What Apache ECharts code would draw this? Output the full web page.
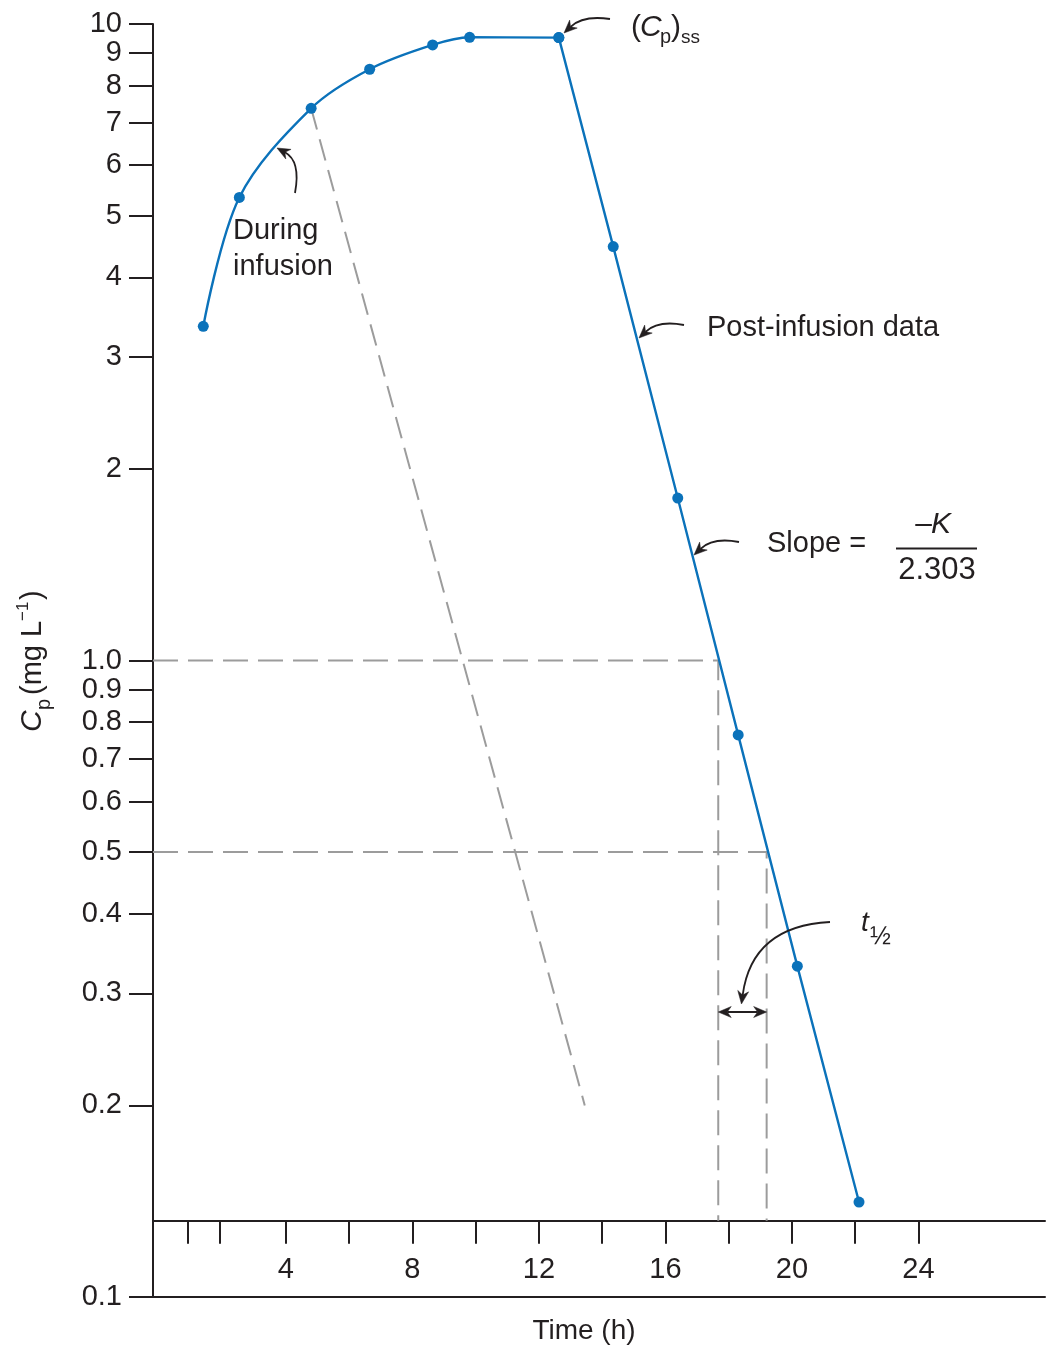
<!DOCTYPE html>
<html>
<head>
<meta charset="utf-8">
<script src="https://cdn.jsdelivr.net/npm/echarts@6/dist/echarts.min.js"></script>
<style>
html,body{margin:0;padding:0;background:#ffffff;}
#chart{width:1055px;height:1350px;}
</style>
</head>
<body>
<div id="chart"></div>
<script>
// ---------- data ----------
const xTickValues = [0.9, 1.9, 4, 6, 8, 10, 12, 14, 16, 18, 20, 22, 24];
const xTickLabels = [4, 8, 12, 16, 20, 24];
const yTickValues = [0.1, 0.2, 0.3, 0.4, 0.5, 0.6, 0.7, 0.8, 0.9, 1, 2, 3, 4, 5, 6, 7, 8, 9, 10];
const yTickLabels = ['0.1', '0.2', '0.3', '0.4', '0.5', '0.6', '0.7', '0.8', '0.9', '1.0', '2', '3', '4', '5', '6', '7', '8', '9', '10'];

const infusionTime = [1.39, 2.53, 4.80, 6.65, 8.64, 9.81, 12.63];
const infusionCp   = [3.35, 5.34, 7.37, 8.49, 9.27, 9.53, 9.52];

const postTime = [12.63, 14.35, 16.39, 18.30, 20.17, 22.12];
const postCp   = [9.52, 4.47, 1.80, 0.764, 0.331, 0.141];

const extrapTime = [4.80, 13.45];
const extrapCp   = [7.37, 0.20];

const halfLifeTime = [17.67, 19.20];
const halfLifeCp   = [1.0, 0.5];

const timeAxisCp = 0.1318;   // level where the time axis is drawn
const xMin = -0.2, xMax = 28;
const yMin = 0.1, yMax = 10;

// ---------- styles ----------
const FONT = 'Liberation Sans';
const INK = '#231f20';
const BLUE = '#0b72ba';
const GRAY = '#9c9c9c';
const lg = v => Math.log10(v);

const gridTop = 24, gridBottom = 53, gridLeft = 153, gridRight = 10;
const gridH = 1350 - gridTop - gridBottom;
const xAxisOffset = -((lg(timeAxisCp) - lg(yMin)) / (lg(yMax) - lg(yMin))) * gridH;

function yLabel(v) {
  for (let i = 0; i < yTickValues.length; i++) {
    if (Math.abs(lg(yTickValues[i]) - v) < 1e-6) return yTickLabels[i];
  }
  return '';
}

const chart = echarts.init(document.getElementById('chart'), null, {renderer: 'canvas'});

const option = {
  animation: false,
  backgroundColor: '#ffffff',
  textStyle: {fontFamily: FONT},
  grid: {left: gridLeft, right: gridRight, top: gridTop, bottom: gridBottom, containLabel: false, outerBoundsMode: 'none'},
  xAxis: [
    {
      type: 'value', min: xMin, max: xMax, position: 'bottom', offset: xAxisOffset,
      axisLine: {show: true, onZero: false, lineStyle: {color: INK, width: 2}},
      axisTick: {show: true, customValues: xTickValues, length: 23, inside: false, lineStyle: {color: INK, width: 2}},
      axisLabel: {show: true, customValues: xTickLabels, margin: 35, fontSize: 29, color: INK, fontFamily: FONT,
                  hideOverlap: false, formatter: v => String(v)},
      splitLine: {show: false}
    },
    {
      type: 'value', min: xMin, max: xMax, position: 'bottom', offset: 0,
      axisLine: {show: true, onZero: false, lineStyle: {color: INK, width: 2}},
      axisTick: {show: false}, axisLabel: {show: false}, splitLine: {show: false}
    }
  ],
  yAxis: {
    type: 'value', min: lg(yMin), max: lg(yMax), position: 'left',
    axisLine: {show: true, onZero: false, lineStyle: {color: INK, width: 2}},
    axisTick: {show: true, customValues: yTickValues.map(lg), length: 24, inside: false, lineStyle: {color: INK, width: 2}},
    axisLabel: {show: true, customValues: yTickValues.map(lg), margin: 31, fontSize: 29, color: INK, fontFamily: FONT,
                hideOverlap: false, formatter: yLabel},
    splitLine: {show: false}
  },
  series: [
    {
      type: 'line', name: 'extrapolation', xAxisIndex: 0, symbol: 'none', silent: true, z: 2,
      data: extrapTime.map((t, i) => [t, lg(extrapCp[i])]),
      lineStyle: {color: GRAY, width: 2, type: [22, 10]}
    },
    {
      type: 'line', name: 'guide 1.0', xAxisIndex: 0, symbol: 'none', silent: true, z: 2,
      data: [[xMin, lg(halfLifeCp[0])], [halfLifeTime[0], lg(halfLifeCp[0])], [halfLifeTime[0], lg(timeAxisCp)]],
      lineStyle: {color: GRAY, width: 2, type: [25, 10]}
    },
    {
      type: 'line', name: 'guide 0.5', xAxisIndex: 0, symbol: 'none', silent: true, z: 2,
      data: [[xMin, lg(halfLifeCp[1])], [halfLifeTime[1], lg(halfLifeCp[1])], [halfLifeTime[1], lg(timeAxisCp)]],
      lineStyle: {color: GRAY, width: 2, type: [25, 10]}
    },
    {
      type: 'line', name: 'During infusion', xAxisIndex: 0, smooth: 0.33, z: 5,
      symbol: 'circle', symbolSize: 11, showSymbol: true,
      data: infusionTime.map((t, i) => [t, lg(infusionCp[i])]),
      itemStyle: {color: BLUE, borderWidth: 0}, lineStyle: {color: BLUE, width: 2.4}
    },
    {
      type: 'line', name: 'Post-infusion data', xAxisIndex: 0, smooth: false, z: 5,
      symbol: 'circle', symbolSize: 11, showSymbol: true,
      data: postTime.map((t, i) => [t, lg(postCp[i])]),
      itemStyle: {color: BLUE, borderWidth: 0}, lineStyle: {color: BLUE, width: 2.4}
    }
  ]
};
chart.setOption(option);

// ---------- annotations ----------
function txt(x, y, text, size, opts) {
  opts = opts || {};
  return {
    type: 'text', x: x, y: y, silent: true, z: 10,
    style: {
      text: text, fontSize: size, fontFamily: FONT, fontStyle: opts.italic ? 'italic' : 'normal',
      fill: INK, align: opts.align || 'left', verticalAlign: opts.va || 'middle'
    }
  };
}
function head(x2, y2, ux, uy) {
  const len = 13, half = 5.5, notch = 4;
  const px = -uy, py = ux;
  const bx = x2 - ux * len, by = y2 - uy * len;
  const nx = x2 - ux * (len - notch), ny = y2 - uy * (len - notch);
  return {
    el: {type: 'polygon', silent: true, z: 10,
         shape: {points: [[x2, y2], [bx + px * half, by + py * half], [nx, ny], [bx - px * half, by - py * half]]},
         style: {fill: INK, stroke: INK, lineWidth: 0.5}},
    nx: nx, ny: ny
  };
}
function curveArrow(x1, y1, cx, cy, x2, y2) {
  const dx = x2 - cx, dy = y2 - cy, L = Math.hypot(dx, dy);
  const h = head(x2, y2, dx / L, dy / L);
  return [
    {type: 'bezierCurve', silent: true, z: 10,
     shape: {x1: x1, y1: y1, x2: h.nx, y2: h.ny, cpx1: cx, cpy1: cy},
     style: {stroke: INK, lineWidth: 1.8, fill: null}},
    h.el
  ];
}

const pA = chart.convertToPixel({seriesIndex: 4}, [halfLifeTime[0], lg(0.5)]);
const pB = chart.convertToPixel({seriesIndex: 4}, [halfLifeTime[1], lg(0.5)]);
const dblY = 1012;
const hL = head(pA[0], dblY, -1, 0);
const hR = head(pB[0], dblY, 1, 0);
const midX = (pA[0] + pB[0]) / 2;

const g = [];
// y axis title (rotated)
g.push({
  type: 'group', x: 33, y: 660, rotation: Math.PI / 2, silent: true,
  children: [
    {type: 'text', x: -72, y: 0, style: {text: 'C', fontSize: 30, fontFamily: FONT, fontStyle: 'italic', fill: INK, align: 'left', verticalAlign: 'middle'}},
    {type: 'text', x: -50, y: 11, style: {text: 'p', fontSize: 20, fontFamily: FONT, fill: INK, align: 'left', verticalAlign: 'middle'}},
    {type: 'text', x: -35, y: 0, style: {text: '(mg L', fontSize: 29, fontFamily: FONT, fill: INK, align: 'left', verticalAlign: 'middle'}},
    {type: 'text', x: 39, y: -10, style: {text: '\u22121', fontSize: 17, fontFamily: FONT, fill: INK, align: 'left', verticalAlign: 'middle'}},
    {type: 'text', x: 60, y: 0, style: {text: ')', fontSize: 29, fontFamily: FONT, fill: INK, align: 'left', verticalAlign: 'middle'}}
  ]
});
// x axis title
g.push(txt(584, 1331, 'Time (h)', 28, {align: 'center'}));

// (Cp)ss
g.push(txt(631, 28, '(', 30));
g.push(txt(640, 28, 'C', 30, {italic: true}));
g.push(txt(660, 37, 'p', 20));
g.push(txt(671, 28, ')', 30));
g.push(txt(681, 38, 'ss', 19));
g.push.apply(g, curveArrow(610, 19, 583, 15, 564, 33));

// During infusion
g.push(txt(233, 231, 'During', 29));
g.push(txt(233, 267, 'infusion', 29));
g.push.apply(g, curveArrow(295, 193, 301, 161, 277, 148));

// Post-infusion data
g.push(txt(707, 328, 'Post-infusion data', 29));
g.push.apply(g, curveArrow(684, 325, 658, 320, 639, 338));

// Slope = -K / 2.303
g.push(txt(767, 544, 'Slope =', 29));
g.push(txt(932, 525, '\u2013', 30, {align: 'right'}));
g.push(txt(931, 525, 'K', 30, {italic: true}));
g.push({type: 'line', silent: true, z: 10, shape: {x1: 896, y1: 548.5, x2: 977, y2: 548.5}, style: {stroke: INK, lineWidth: 2}});
g.push(txt(937, 570, '2.303', 31, {align: 'center'}));
g.push.apply(g, curveArrow(739, 542, 713, 537, 694, 555));

// t1/2
g.push(txt(861, 923, 't', 28, {italic: true}));
g.push(txt(870, 937, '\u00bd', 25));
g.push.apply(g, curveArrow(830, 922, 752, 926, midX - 1, dblY - 8));

// double-headed arrow
g.push({type: 'line', silent: true, z: 10, shape: {x1: hL.nx, y1: dblY, x2: hR.nx, y2: dblY}, style: {stroke: INK, lineWidth: 2}});
g.push(hL.el);
g.push(hR.el);

chart.setOption({graphic: g});
</script>
</body>
</html>
